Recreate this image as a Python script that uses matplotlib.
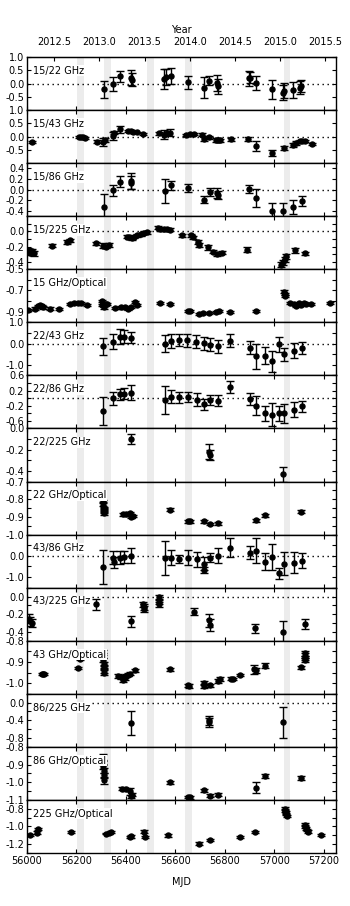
import matplotlib
matplotlib.use('Agg')
import matplotlib.pyplot as plt
import numpy as np

plt.rcParams['font.family'] = ['DejaVu Sans']
plt.rcParams['font.size'] = 7
plt.rcParams['axes.unicode_minus'] = False

# ---------------- data ----------------
labels = ["15/22 GHz", "15/43 GHz", "15/86 GHz", "15/225 GHz", "15 GHz/Optical",
          "22/43 GHz", "22/86 GHz", "22/225 GHz", "22 GHz/Optical", "43/86 GHz",
          "43/225 GHz", "43 GHz/Optical", "86/225 GHz", "86 GHz/Optical", "225 GHz/Optical"]

band_start = [56203, 56311, 56485, 56641, 57038]
band_end = [56230, 56338, 56512, 56669, 57065]

year_ticks = [2012.5, 2013.0, 2013.5, 2014.0, 2014.5, 2015.0, 2015.5]
mjd_ticks = [56000, 56200, 56400, 56600, 56800, 57000, 57200]

p1_mjd = [56311, 56349, 56378, 56419, 56423, 56556, 56564, 56583, 56653, 56714, 56737, 56767, 56771,
          56898, 56901, 56928, 56993, 57036, 57038, 57076, 57106, 57110]
p1_val = [-0.21, -0.03, 0.27, 0.22, 0.15, 0.16, 0.25, 0.27, 0.04, -0.15, 0.10, 0.02, -0.10,
          0.19, 0.22, 0.03, -0.22, -0.35, -0.27, -0.25, -0.15, -0.10]
p1_err = [0.32, 0.27, 0.22, 0.28, 0.25, 0.38, 0.30, 0.30, 0.26, 0.40, 0.17, 0.30, 0.28,
          0.28, 0.20, 0.27, 0.35, 0.28, 0.28, 0.30, 0.24, 0.22]

p2_mjd = [56019, 56210, 56218, 56226, 56234, 56282, 56309, 56314, 56349, 56352, 56378, 56410, 56420,
          56430, 56443, 56470, 56535, 56556, 56565, 56580, 56645, 56660, 56675, 56706, 56716, 56737,
          56765, 56772, 56780, 56827, 56894, 56928, 56993, 57038, 57076, 57087, 57103, 57113, 57123, 57154]
p2_val = [-0.20, -0.01, -0.03, -0.02, -0.05, -0.19, -0.19, -0.14, 0.04, 0.15, 0.27, 0.22, 0.21,
          0.19, 0.16, 0.10, 0.12, 0.07, 0.13, 0.15, 0.05, 0.08, 0.10, 0.07, -0.08, -0.02,
          -0.14, -0.12, -0.14, -0.10, -0.08, -0.36, -0.62, -0.44, -0.32, -0.24, -0.17, -0.16, -0.18, -0.28]
p2_err = [0.04, 0.04, 0.04, 0.04, 0.04, 0.06, 0.15, 0.08, 0.15, 0.05, 0.14, 0.03, 0.04,
          0.03, 0.03, 0.03, 0.05, 0.17, 0.06, 0.12, 0.04, 0.04, 0.03, 0.05, 0.10, 0.06,
          0.07, 0.08, 0.06, 0.05, 0.08, 0.20, 0.10, 0.08, 0.07, 0.06, 0.04, 0.04, 0.04, 0.04]

p3_mjd = [56311, 56349, 56378, 56419, 56421, 56559, 56583, 56653, 56715, 56740, 56769, 56772,
          56898, 56928, 56993, 57036, 57076, 57111]
p3_val = [-0.33, -0.01, 0.15, 0.17, 0.13, -0.02, 0.08, 0.03, -0.19, -0.04, -0.06, -0.10,
          0.01, -0.16, -0.41, -0.41, -0.32, -0.21]
p3_err = [0.24, 0.10, 0.10, 0.15, 0.12, 0.23, 0.09, 0.07, 0.07, 0.07, 0.10, 0.08,
          0.07, 0.17, 0.16, 0.16, 0.13, 0.09]

p4_mjd = [56005, 56012, 56020, 56028, 56102, 56160, 56172, 56279, 56309, 56318, 56330, 56403, 56413,
          56423, 56433, 56443, 56463, 56475, 56484, 56531, 56540, 56553, 56566, 56578, 56625, 56665,
          56672, 56692, 56695, 56733, 56753, 56767, 56787, 56888, 57029, 57036, 57043, 57049, 57083, 57123]
p4_val = [-0.25, -0.28, -0.26, -0.29, -0.19, -0.14, -0.12, -0.16, -0.19, -0.20, -0.18, -0.07, -0.08,
          -0.09, -0.07, -0.05, -0.04, -0.02, -0.01, 0.05, 0.03, 0.03, 0.03, 0.02, -0.05, -0.05,
          -0.08, -0.14, -0.18, -0.21, -0.27, -0.30, -0.28, -0.24, -0.44, -0.41, -0.37, -0.33, -0.25, -0.29]
p4_err = [0.03, 0.03, 0.03, 0.03, 0.02, 0.03, 0.02, 0.02, 0.03, 0.02, 0.02, 0.02, 0.02,
          0.02, 0.02, 0.02, 0.02, 0.02, 0.02, 0.02, 0.02, 0.02, 0.02, 0.02, 0.02, 0.02,
          0.02, 0.03, 0.03, 0.03, 0.02, 0.02, 0.02, 0.03, 0.03, 0.03, 0.03, 0.03, 0.03, 0.02]

p5_mjd = [56005, 56032, 56045, 56052, 56060, 56066, 56093, 56131, 56174, 56190, 56205, 56218, 56244,
          56302, 56305, 56310, 56318, 56324, 56356, 56380, 56395, 56410, 56420, 56436, 56445, 56537,
          56578, 56652, 56658, 56694, 56710, 56735, 56765, 56775, 56820, 56925, 57039, 57042, 57044,
          57063, 57080, 57090, 57100, 57110, 57120, 57130, 57150, 57224]
p5_val = [-0.885, -0.87, -0.85, -0.84, -0.85, -0.86, -0.87, -0.875, -0.83, -0.82, -0.815, -0.82, -0.835,
          -0.795, -0.84, -0.86, -0.83, -0.83, -0.865, -0.86, -0.86, -0.87, -0.855, -0.81, -0.84, -0.82,
          -0.83, -0.895, -0.89, -0.925, -0.91, -0.91, -0.90, -0.895, -0.90, -0.89, -0.71, -0.73, -0.75,
          -0.82, -0.83, -0.85, -0.82, -0.84, -0.82, -0.83, -0.83, -0.82]
p5_err = [0.01] * 48

p6_mjd = [56308, 56349, 56378, 56392, 56419, 56558, 56581, 56616, 56648, 56683, 56715, 56740, 56772,
          56823, 56904, 56928, 56962, 56993, 57020, 57040, 57079, 57111]
p6_val = [-0.13, 0.08, 0.33, 0.33, 0.28, 0.00, 0.12, 0.17, 0.15, 0.09, 0.02, -0.05, -0.13,
          0.13, -0.20, -0.60, -0.58, -0.84, -0.03, -0.50, -0.33, -0.21]
p6_err = [0.40, 0.35, 0.35, 0.30, 0.25, 0.42, 0.35, 0.30, 0.30, 0.30, 0.30, 0.30, 0.32,
          0.30, 0.30, 0.60, 0.40, 0.50, 0.35, 0.30, 0.35, 0.30]

p7_mjd = [56308, 56349, 56378, 56392, 56420, 56559, 56582, 56616, 56651, 56686, 56718, 56740, 56772,
          56820, 56904, 56928, 56962, 56993, 57020, 57038, 57079, 57111]
p7_val = [-0.34, 0.00, 0.10, 0.12, 0.14, -0.05, 0.04, 0.02, 0.03, -0.04, -0.16, -0.06, -0.07,
          0.29, -0.02, -0.20, -0.40, -0.44, -0.40, -0.40, -0.31, -0.22]
p7_err = [0.36, 0.17, 0.15, 0.15, 0.20, 0.38, 0.18, 0.14, 0.14, 0.18, 0.15, 0.13, 0.15,
          0.15, 0.15, 0.25, 0.20, 0.30, 0.20, 0.25, 0.20, 0.15]

p8_mjd = [56420, 56737, 56739, 57036]
p8_val = [-0.10, -0.22, -0.25, -0.43]
p8_err = [0.05, 0.07, 0.05, 0.07]

p9_mjd = [56306, 56308, 56310, 56311, 56312, 56313, 56389, 56400, 56415, 56420, 56428, 56580,
          56652, 56659, 56715, 56740, 56773, 56925, 56962, 57110]
p9_val = [-0.81, -0.83, -0.85, -0.86, -0.87, -0.88, -0.885, -0.885, -0.88, -0.90, -0.895, -0.86,
          -0.925, -0.925, -0.925, -0.94, -0.935, -0.92, -0.89, -0.87]
p9_err = [0.008] * 20

p10_mjd = [56308, 56349, 56351, 56378, 56392, 56420, 56559, 56581, 56616, 56651, 56686, 56716, 56717,
           56740, 56772, 56820, 56904, 56928, 56962, 56993, 57020, 57038, 57079, 57111]
p10_val = [-0.52, -0.08, -0.30, -0.08, -0.05, 0.00, -0.12, -0.08, -0.14, -0.08, -0.16, -0.37, -0.66,
           -0.08, 0.00, 0.39, 0.14, 0.24, -0.27, -0.05, -0.82, -0.37, -0.32, -0.24]
p10_err = [0.80, 0.30, 0.25, 0.30, 0.30, 0.35, 0.80, 0.35, 0.20, 0.35, 0.35, 0.30, 0.15,
           0.20, 0.35, 0.45, 0.30, 0.60, 0.40, 0.60, 0.25, 0.55, 0.50, 0.35]

p11_mjd = [56008, 56012, 56019, 56281, 56420, 56471, 56473, 56475, 56532, 56533, 56534, 56675,
           56737, 56739, 56924, 57036, 57126]
p11_val = [-0.25, -0.28, -0.30, -0.09, -0.28, -0.09, -0.12, -0.14, -0.01, -0.06, -0.09, -0.17,
           -0.27, -0.32, -0.36, -0.40, -0.31]
p11_err = [0.05, 0.05, 0.05, 0.06, 0.06, 0.03, 0.03, 0.03, 0.03, 0.03, 0.03, 0.04,
           0.07, 0.07, 0.05, 0.12, 0.06]

p12_mjd = [56062, 56066, 56070, 56207, 56214, 56306, 56308, 56309, 56310, 56311, 56312, 56313,
           56370, 56380, 56390, 56395, 56400, 56410, 56415, 56436, 56580, 56652, 56656, 56715, 56717,
           56740, 56773, 56780, 56825, 56833, 56862, 56919, 56925, 56962, 57110, 57123, 57124, 57125, 57126]
p12_val = [-0.955, -0.957, -0.955, -0.93, -0.884, -0.855, -0.87, -0.89, -0.91, -0.925, -0.94, -0.95,
           -0.967, -0.97, -0.985, -0.975, -0.965, -0.96, -0.955, -0.94, -0.935, -1.01, -1.013, -1.015, -1.0,
           -1.01, -0.99, -0.98, -0.978, -0.98, -0.96, -0.935, -0.94, -0.917, -0.925, -0.86, -0.87, -0.88, -0.89]
p12_err = [0.005, 0.005, 0.005, 0.005, 0.008, 0.01, 0.01, 0.01, 0.01, 0.01, 0.01, 0.01,
           0.008, 0.008, 0.008, 0.008, 0.008, 0.008, 0.008, 0.005, 0.008, 0.008, 0.008, 0.01, 0.01,
           0.008, 0.008, 0.008, 0.008, 0.005, 0.005, 0.02, 0.01, 0.01, 0.008, 0.01, 0.01, 0.01, 0.01]

p13_mjd = [56420, 56737, 56738, 57036]
p13_val = [-0.47, -0.40, -0.44, -0.44]
p13_err = [0.27, 0.10, 0.10, 0.35]

p14_mjd = [56306, 56308, 56309, 56310, 56311, 56312, 56383, 56400, 56416, 56420, 56425, 56580,
           56652, 56659, 56715, 56740, 56773, 56925, 56962, 57110]
p14_val = [-0.86, -0.89, -0.91, -0.935, -0.96, -0.99, -1.036, -1.04, -1.05, -1.08, -1.07, -1.00,
           -1.083, -1.085, -1.045, -1.075, -1.07, -1.03, -0.966, -0.975]
p14_err = [0.02, 0.015, 0.015, 0.015, 0.015, 0.02, 0.008, 0.008, 0.02, 0.01, 0.01, 0.008,
           0.008, 0.008, 0.008, 0.008, 0.01, 0.03, 0.01, 0.01]

p15_mjd = [56012, 56040, 56045, 56180, 56320, 56330, 56338, 56418, 56422, 56475, 56476, 56571,
           56695, 56740, 56861, 56921, 57043, 57045, 57047, 57049, 57051, 57123, 57126, 57129, 57133,
           57137, 57190]
p15_val = [-1.10, -1.07, -1.03, -1.06, -1.08, -1.07, -1.06, -1.12, -1.11, -1.06, -1.12, -1.10,
           -1.195, -1.15, -1.12, -1.06, -0.80, -0.82, -0.84, -0.86, -0.88, -0.98, -1.00, -1.02, -1.04,
           -1.06, -1.10]
p15_err = [0.01, 0.015, 0.015, 0.01, 0.01, 0.01, 0.01, 0.015, 0.015, 0.015, 0.015, 0.015,
           0.015, 0.01, 0.01, 0.01, 0.015, 0.015, 0.015, 0.015, 0.015, 0.015, 0.015, 0.015, 0.015,
           0.015, 0.01]

series = [(p1_mjd, p1_val, p1_err), (p2_mjd, p2_val, p2_err), (p3_mjd, p3_val, p3_err),
          (p4_mjd, p4_val, p4_err), (p5_mjd, p5_val, p5_err), (p6_mjd, p6_val, p6_err),
          (p7_mjd, p7_val, p7_err), (p8_mjd, p8_val, p8_err), (p9_mjd, p9_val, p9_err),
          (p10_mjd, p10_val, p10_err), (p11_mjd, p11_val, p11_err), (p12_mjd, p12_val, p12_err),
          (p13_mjd, p13_val, p13_err), (p14_mjd, p14_val, p14_err), (p15_mjd, p15_val, p15_err)]

# ---------------- layout per panel ----------------
# (ylim, tick step, labelled ticks, zero line)
axcfg = [
    ((-1.0, 1.0), 0.5, [1.0, 0.5, 0.0, -0.5], True),
    ((-1.0, 1.0), 0.5, [1.0, 0.5, 0.0, -0.5], True),
    ((-0.5, 0.5), 0.2, [0.4, 0.2, 0.0, -0.2, -0.4], True),
    ((-0.5, 0.2), 0.1, [0.0, -0.2, -0.4], True),
    ((-1.0, -0.5), 0.1, [-0.5, -0.7, -0.9], False),
    ((-1.5, 1.0), 0.5, [1.0, 0.0, -1.0], True),
    ((-0.8, 0.6), 0.2, [0.6, 0.2, -0.2, -0.6], True),
    ((-0.5, 0.0), 0.1, [0.0, -0.2, -0.4], False),
    ((-1.0, -0.7), 0.05, [-0.7, -0.8, -0.9, -1.0], False),
    ((-1.5, 1.0), 0.5, [0.0, -1.0], True),
    ((-0.5, 0.1), 0.1, [0.0, -0.2, -0.4], True),
    ((-1.05, -0.8), 0.05, [-0.8, -0.9, -1.0], False),
    ((-1.0, 0.2), 0.2, [0.0, -0.4, -0.8], True),
    ((-1.1, -0.8), 0.05, [-0.8, -0.9, -1.0, -1.1], False),
    ((-1.3, -0.7), 0.1, [-0.8, -1.0, -1.2], False),
]

W, H = 350, 906
fig = plt.figure(figsize=(W / 100, H / 100), dpi=100)
axes = fig.subplots(len(labels), 1, sharex=True)
fig.subplots_adjust(left=27 / W, right=336 / W, top=1 - 57 / H, bottom=1 - 853 / H, hspace=0)

for i, ax in enumerate(axes):
    m, v, e = series[i]
    (y0, y1), step, lab, zline = axcfg[i]
    for bs, be in zip(band_start, band_end):
        ax.axvspan(bs, be, color='#ececec', lw=0, zorder=0)
    if zline:
        ax.axhline(0, color='k', lw=1.0, ls=(0, (1, 2.6)), zorder=1)
    ax.errorbar(m, v, yerr=e, fmt='o', color='k', ms=3.6, capsize=2.6,
                elinewidth=1.0, capthick=1.0, zorder=3)
    ax.set_ylim(y0, y1)
    k0 = int(np.ceil(y0 / step - 1e-6))
    k1 = int(np.floor(y1 / step + 1e-6))
    ticks = [round(k * step, 3) for k in range(k0, k1 + 1)]
    ax.set_yticks(ticks)
    ax.set_yticklabels([('%.1f' % t) if any(abs(t - l) < 1e-6 for l in lab) else '' for t in ticks])
    ax.tick_params(axis='both', direction='in', length=3, width=0.8, top=True, right=True,
                   labelsize=7, pad=2)
    for s in ax.spines.values():
        s.set_linewidth(1.0)
    ax.text(0.02, 0.74, labels[i], transform=ax.transAxes, ha='left', va='center', fontsize=7,
            bbox=dict(facecolor='white', edgecolor='none', pad=0.5), zorder=4)
    if i < len(labels) - 1:
        ax.tick_params(axis='x', labelbottom=False)

axes[-1].set_xlim(56000, 57250)
axes[-1].set_xticks(mjd_ticks)
axes[-1].set_xlabel('MJD', fontsize=7, labelpad=8)

# Year axis on top of first panel
axes[0].tick_params(axis='x', top=False)


def mjd2yr(x):
    return 2013.0 + (np.asarray(x) - 56293.0) / 365.25


def yr2mjd(y):
    return 56293.0 + (np.asarray(y) - 2013.0) * 365.25


sec = axes[0].secondary_xaxis('top', functions=(mjd2yr, yr2mjd))
sec.set_xticks(year_ticks)
sec.set_xticklabels(['%.1f' % y for y in year_ticks])
sec.tick_params(direction='in', length=3, width=0.8, labelsize=7, pad=7)
sec.set_xlabel('Year', fontsize=7, labelpad=3)

fig.savefig('out.png', dpi=100, facecolor='white')
